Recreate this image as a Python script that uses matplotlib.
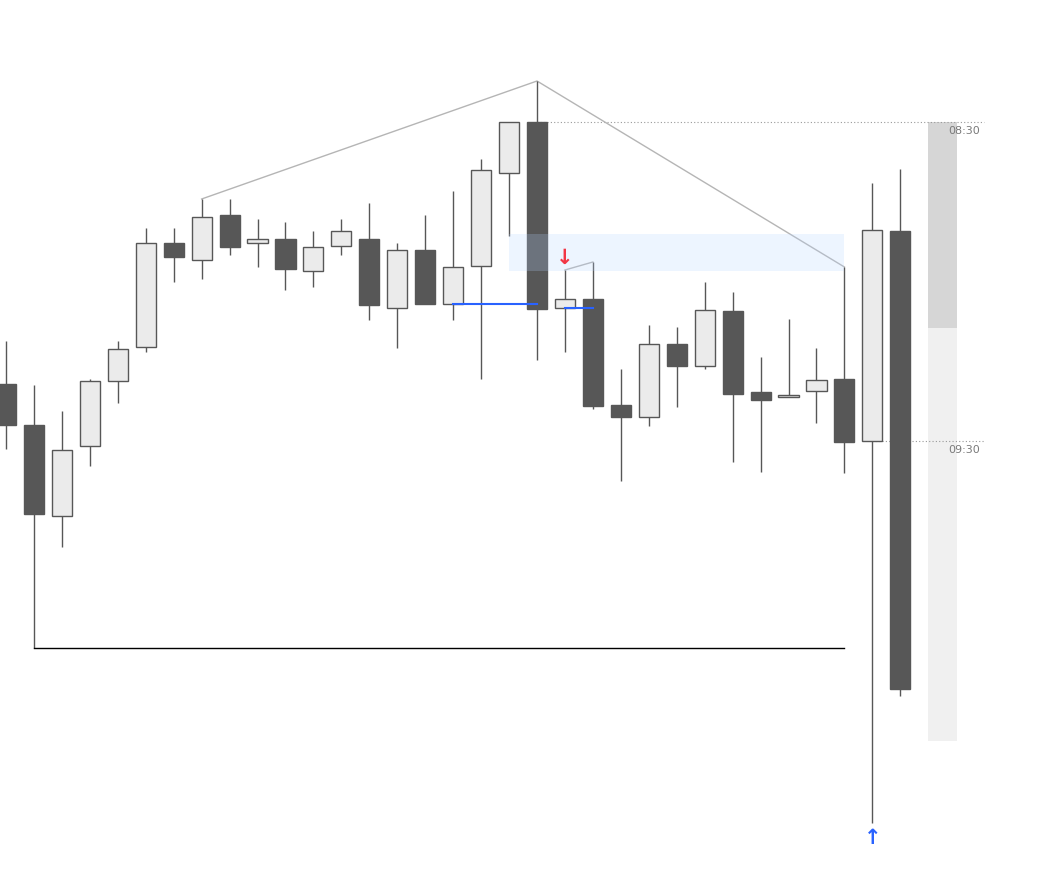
import numpy as np
import matplotlib
matplotlib.use("Agg")
import matplotlib.pyplot as plt
from matplotlib.patches import Rectangle

# OHLC values, one per bar (oldest first)
opens = [616, 575, 484, 554, 619, 653, 757, 740, 785, 757, 761, 729, 754, 761, 692, 750, 696,
         734, 827, 878, 692, 701, 595, 583, 656, 634, 689, 608, 603, 609, 621, 559, 769]
highs = [659, 615, 589, 621, 659, 772, 772, 801, 801, 781, 778, 769, 781, 797, 757, 785, 809,
         841, 878, 919, 730, 738, 631, 675, 673, 718, 708, 643, 681, 652, 733, 817, 831]
lows = [551, 352, 453, 534, 597, 648, 718, 721, 745, 733, 710, 713, 745, 680, 652, 696, 680,
        621, 764, 640, 648, 591, 519, 574, 593, 631, 538, 528, 603, 577, 527, 177, 304]
closes = [575, 486, 550, 619, 651, 757, 743, 783, 753, 761, 731, 753, 769, 695, 750, 696, 733,
          830, 878, 691, 701, 594, 583, 656, 634, 690, 606, 600, 605, 620, 558, 770, 311]

# swing points for the zigzag (bar index)
swing_main = [7, 19, 30]
swing_small = [20, 21]

# supply zone (price levels) and its first/last bar
zone_top, zone_bottom = 766, 729
zone_start, zone_end = 18, 30

# session opens
session_labels = ["08:30", "09:30"]
session_bars = [19, 31]
session_range = [878, 672, 259]   # top, split, bottom of the range column

up_col = "#ebebeb"
dn_col = "#575757"
edge = "#575757"

fig = plt.figure(figsize=(10.42, 8.86), dpi=100)
ax = fig.add_axes([0, 0, 1, 1])
ax.set_xlim(-0.2147, 37.07)
ax.set_ylim(114, 1000)
ax.axis("off")

n = len(opens)
x = np.arange(n)

# session level lines + labels
for lab, b in zip(session_labels, session_bars):
    lvl = opens[b]
    ax.plot([b, 35], [lvl, lvl], color="#999999", lw=0.8, ls=(0, (1, 2)), zorder=1)
    ax.text(34.85, lvl - 3.5, lab, ha="right", va="top", fontsize=8, color="#7a7a7a")

# range column on the right
ax.add_patch(Rectangle((32.99, session_range[1]), 1.03, session_range[0] - session_range[1],
                       color="#d6d6d6", lw=0, zorder=0))
ax.add_patch(Rectangle((32.99, session_range[2]), 1.03, session_range[1] - session_range[2],
                       color="#f0f0f0", lw=0, zorder=0))

# wicks
ax.vlines(x, lows, highs, color=edge, lw=1, zorder=2)

# bodies
for i in range(n):
    o, c = opens[i], closes[i]
    bull = c >= o
    ax.add_patch(Rectangle((i - 0.36, min(o, c)), 0.72, max(abs(c - o), 1.5),
                           facecolor=up_col if bull else dn_col, edgecolor=edge,
                           lw=1, zorder=3))

# low level line
ax.plot([1, 30], [lows[1], lows[1]], color="black", lw=1, zorder=2)

# zigzag
ax.plot(swing_main, [highs[i] for i in swing_main], color="#b5b5b5", lw=1, zorder=1)
ax.plot(swing_small, [highs[i] for i in swing_small], color="#b5b5b5", lw=1, zorder=1)

# zone
ax.add_patch(Rectangle((zone_start, zone_bottom), zone_end - zone_start, zone_top - zone_bottom,
                       facecolor=(0.71, 0.83, 1.0), alpha=0.23, lw=0, zorder=4))

# blue levels
ax.plot([16, 19], [opens[16], opens[16]], color="#2962ff", lw=1.5, zorder=5)
ax.plot([20, 21], [opens[20], opens[20]], color="#2962ff", lw=1.5, zorder=5)

# signal arrows
ax.text(20, highs[20] + 12, "\u2193", ha="center", va="center", fontsize=15,
        color="#f23645", fontweight="bold", zorder=6)
ax.text(31, lows[31] - 15, "\u2191", ha="center", va="center", fontsize=15,
        color="#2962ff", fontweight="bold", zorder=6)

fig.savefig("out.png", dpi=100)
